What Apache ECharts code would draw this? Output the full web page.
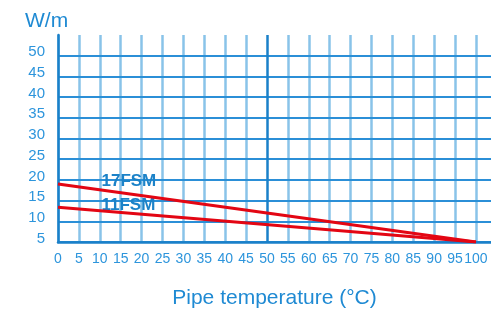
<!DOCTYPE html>
<html>
<head>
<meta charset="utf-8">
<script src="https://cdn.jsdelivr.net/npm/echarts@6/dist/echarts.min.js"></script>
<style>html,body{margin:0;padding:0;background:#fff}#c{width:491px;height:310px}</style>
</head>
<body>
<div id="c"></div>
<script>
var seriesNames = ['17FSM', '11FSM'];
var temps = [0, 100];
var watts17 = [19, 5];
var watts11 = [13.4, 5];
var labelPos17 = [10.4, 19.7];
var labelPos11 = [10.4, 13.8];

var chart = echarts.init(document.getElementById('c'));
var font = '"Liberation Sans", Arial, sans-serif';
var hColors = [];
for (var i = 0; i < 10; i++) hColors.push('#2b8fd7');
hColors.push('rgba(0,0,0,0)');
var vColors = [];
for (var j = 0; j < 21; j++) vColors.push(j === 10 ? '#1a80c9' : 'rgba(40,145,215,0.55)');
vColors.push('rgba(0,0,0,0)');

function mkSeries(name, vals, pos) {
  return {
    name: name, type: 'line',
    data: temps.map(function (t, k) { return [t, vals[k]]; }),
    symbol: 'none',
    lineStyle: { color: '#e30613', width: 3.2 },
    z: 5,
    markPoint: {
      symbol: 'rect', symbolSize: 0, silent: true,
      data: [{ coord: pos }],
      label: {
        show: true, position: 'inside', align: 'left', verticalAlign: 'middle',
        formatter: name, color: '#1b82c8', fontSize: 17, fontWeight: 'bold', fontFamily: font
      }
    }
  };
}

chart.setOption({
  animation: false,
  title: {
    text: 'W/m', left: 20, top: 6,
    textStyle: { color: '#1f8ad3', fontSize: 21, fontWeight: 'normal', fontFamily: font }
  },
  grid: { left: 58, right: 0, top: 35, bottom: 68, containLabel: false, outerBoundsMode: 'none' },
  xAxis: {
    type: 'value', min: 0, max: 103.6, interval: 5,
    name: 'Pipe temperature (°C)', nameLocation: 'middle', nameGap: 46,
    nameTextStyle: { color: '#1f8ad3', fontSize: 21, fontFamily: font },
    axisLine: { lineStyle: { color: '#1a80c9', width: 2.5 } },
    axisTick: { show: false },
    axisLabel: {
      color: '#2d95dc', fontSize: 14, fontFamily: font, margin: 10,
      showMaxLabel: true,
      formatter: function (v) { return v > 100 ? '' : String(v); }
    },
    splitLine: { show: true, lineStyle: { color: vColors, width: 2.5 } }
  },
  yAxis: {
    type: 'value', min: 5, max: 55, interval: 5,
    axisLine: { show: true, lineStyle: { color: '#1a80c9', width: 2.5 } },
    axisTick: { show: false },
    axisLabel: {
      color: '#2d95dc', fontSize: 15, fontFamily: font, margin: 13,
      verticalAlign: 'bottom', lineHeight: 7,
      formatter: function (v) { return v > 50 ? '' : String(v); }
    },
    splitLine: { show: true, lineStyle: { color: hColors, width: 2 } }
  },
  series: [
    mkSeries(seriesNames[0], watts17, labelPos17),
    mkSeries(seriesNames[1], watts11, labelPos11)
  ]
});
</script>
</body>
</html>
